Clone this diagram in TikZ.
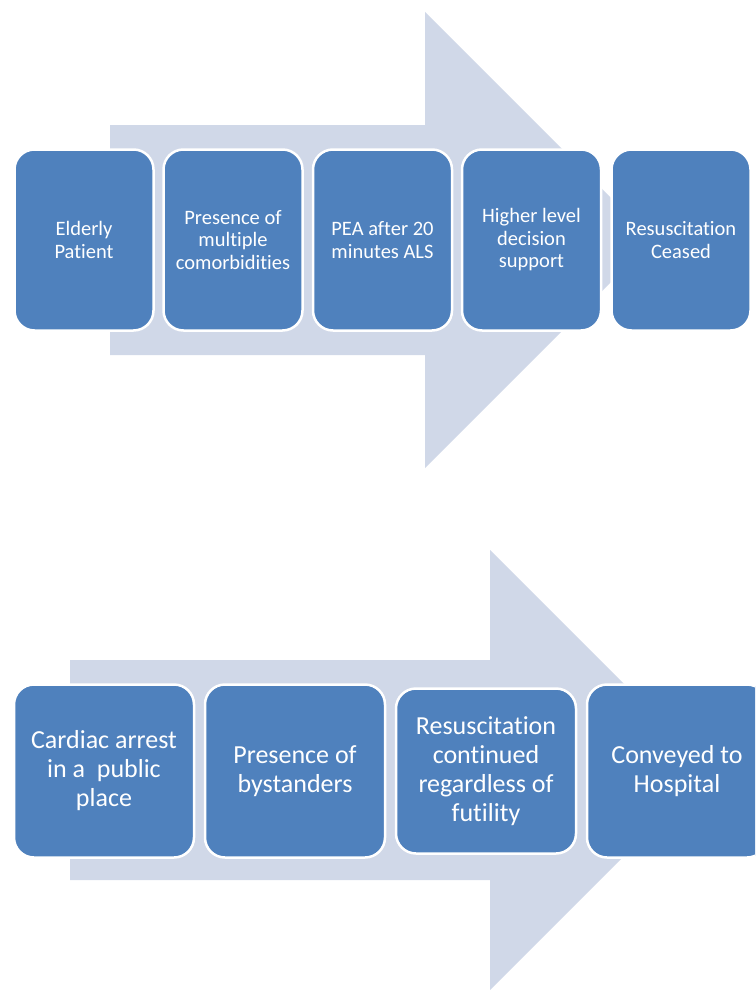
\documentclass[tikz,border=0pt]{standalone}
\usepackage{fontspec}
\setmainfont{Carlito}[Ligatures=NoCommon]
\usepackage{tikz}

\begin{document}
\begin{tikzpicture}[x=1pt,y=-1pt,
  stage/.style={rectangle,rounded corners=20pt,fill={rgb,255:red,79;green,129;blue,189},draw=white,line width=2.5pt,text=white,align=center,inner sep=4pt},
  small stage/.style={stage,minimum width=139pt,minimum height=181pt,font=\fontsize{20.5}{22.5}\selectfont},
  big stage/.style={stage,minimum width=180pt,minimum height=173pt,font=\fontsize{26}{29}\selectfont},
  flow/.style={fill={rgb,255:red,208;green,216;blue,232},draw=none}]
\path[use as bounding box] (0,0) rectangle (755,990);
\clip (0,0) rectangle (755,990);
\path[fill=white,draw=none] (0,0) rectangle (755,990);
% upper sequence
\path[flow] (110,125) -- (425,125) -- (425,12) -- (653,240) -- (425,468) -- (425,355) -- (110,355) -- cycle;
\node[small stage] (elderly) at (84,240) {Elderly\\Patient};
\node[small stage] (comorb) at (233,240) {Presence of\\multiple\\comorbidities};
\node[small stage] (pea) at (382.5,240) {PEA after 20\\minutes ALS};
\node[small stage] (support) at (531.5,240) {Higher level\\decision\\support};
\node[small stage] (ceased) at (681,240) {Resuscitation\\Ceased};
% lower sequence
\path[flow] (70,660) -- (490,660) -- (490,550) -- (710,770) -- (490,990) -- (490,880) -- (70,880) -- cycle;
\node[big stage] (arrest) at (104,771) {Cardiac arrest\\in a\ \ public\\place};
\node[big stage] (bystand) at (295,771) {Presence of\\bystanders};
\node[big stage,minimum height=165pt] (continued) at (486,771) {Resuscitation\\continued\\regardless of\\futility};
\node[big stage] (conveyed) at (677,771) {Conveyed to\\Hospital};
\end{tikzpicture}
\end{document}
